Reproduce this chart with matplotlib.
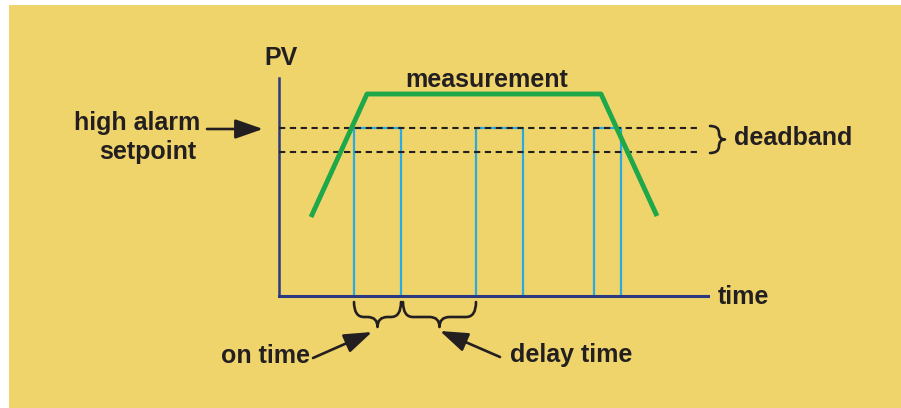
import matplotlib.pyplot as plt
import numpy as np
from matplotlib.path import Path
from matplotlib.patches import PathPatch, Rectangle

# Measurement trace (time, PV)
meas_t = [3.2, 8.8, 32.2, 37.8]
meas_pv = [7.9, 20.2, 20.2, 8.0]

# Alarm setpoint and deadband
high_sp = 16.8
low_sp = 14.4

# Alarm output pulses (on, off)
pulse_on = [7.5, 19.7, 31.5]
pulse_off = [12.2, 24.4, 34.2]

t_max = 42.9
pv_max = 21.8

bg = "#efd46b"
ink = "#231f20"
green = "#1fa84a"
blue = "#29abe2"
navy = "#2b3a80"

plt.rcParams["font.family"] = ["Liberation Sans", "DejaVu Sans"]

fig = plt.figure(figsize=(9.01, 4.08), dpi=100)
ax = fig.add_axes([0, 0, 1, 1])
ax.set_xlim(-27.9, 62.2)
ax.set_ylim(-11.2, 29.6)
ax.axis("off")
ax.add_patch(Rectangle((9 / 901, 0), 1, 1 - 5 / 408, transform=fig.transFigure,
                       facecolor=bg, edgecolor="none", zorder=0))


def brace(x0, x1, y, h, vertical=False):
    # curly brace from x0 to x1, ends at y, tip at y-h
    xm = (x0 + x1) / 2
    q = min(1.0, (x1 - x0) / 4)
    m = y - h * 0.6
    pts = [(x0, y), (x0, m), (x0 + q, m), (xm - q, m), (xm, m), (xm, y - h),
           (xm, m), (xm + q, m), (x1 - q, m), (x1, m), (x1, y)]
    codes = [Path.MOVETO, Path.CURVE3, Path.CURVE3, Path.LINETO, Path.CURVE3, Path.CURVE3,
             Path.CURVE3, Path.CURVE3, Path.LINETO, Path.CURVE3, Path.CURVE3]
    if vertical:
        pts = [(p[1], p[0]) for p in pts]
    ax.add_patch(PathPatch(Path(pts, codes), facecolor="none", edgecolor=ink, lw=1.9,
                           capstyle="round", joinstyle="round", zorder=4))


# axes
ax.plot([0, 0], [0, pv_max], color=navy, lw=1.8, zorder=3)
ax.plot([0, t_max], [0, 0], color=navy, lw=2.2, zorder=3)

# pulses
for a, b in zip(pulse_on, pulse_off):
    ax.plot([a, a, b, b], [0, high_sp, high_sp, 0], color=blue, lw=1.6, zorder=2)

# deadband lines
for lvl in [high_sp, low_sp]:
    ax.plot([0, 42.1], [lvl, lvl], color=ink, lw=1.5, ls=(0, (3, 2.2)), zorder=4)

# measurement
ax.plot(meas_t, meas_pv, color=green, lw=3.5, zorder=5, solid_capstyle="butt")

fs = 18
ax.text(0.2, 23.8, "PV", fontsize=fs, fontweight="bold", color=ink, ha="center", va="center")
ax.text(20.8, 21.6, "measurement", fontsize=fs, fontweight="bold", color=ink, ha="center", va="center")
ax.text(43.9, -0.1, "time", fontsize=fs, fontweight="bold", color=ink, ha="left", va="center")
ax.text(-14.2, 17.3, "high alarm", fontsize=fs, fontweight="bold", color=ink, ha="center", va="center")
ax.text(-13.1, 14.4, "setpoint", fontsize=fs, fontweight="bold", color=ink, ha="center", va="center")
ax.text(45.5, 15.8, "deadband", fontsize=fs, fontweight="bold", color=ink, ha="left", va="center")
ax.text(-1.35, -6.0, "on time", fontsize=fs, fontweight="bold", color=ink, ha="center", va="center")
ax.text(29.2, -5.9, "delay time", fontsize=fs, fontweight="bold", color=ink, ha="center", va="center")

arrow = dict(arrowstyle="-|>,head_length=1.0,head_width=0.35", color=ink, lw=1.9,
             shrinkA=0, shrinkB=0, mutation_scale=17)
ax.annotate("", xy=(-1.6, 16.7), xytext=(-7.2, 16.7), arrowprops=arrow)
ax.annotate("", xy=(9.3, -3.6), xytext=(3.4, -6.2), arrowprops=arrow)
ax.annotate("", xy=(16.1, -3.5), xytext=(22.1, -6.1), arrowprops=arrow)

# braces
brace(pulse_on[0], pulse_off[0], -0.6, 2.5)
brace(pulse_off[0] + 0.2, pulse_on[1], -0.6, 2.5)
brace(low_sp - 0.1, high_sp + 0.2, 43.1, -1.5, vertical=True)

fig.savefig("out.png", dpi=100)
